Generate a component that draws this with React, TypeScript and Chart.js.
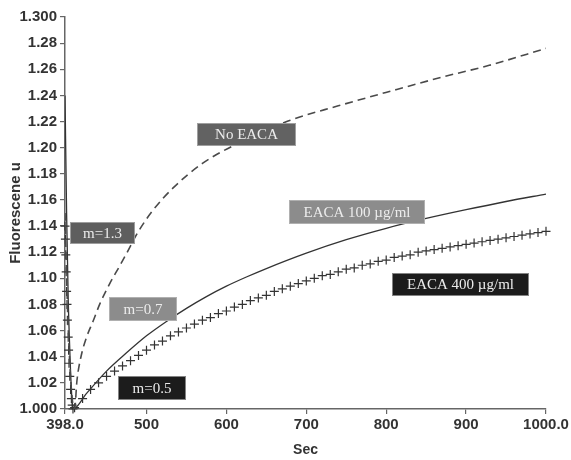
import React, { useEffect, useRef } from "react";
import { Chart, registerables } from "chart.js";

Chart.register(...registerables);

const xTickValues = [398, 500, 600, 700, 800, 900, 1000];
const xTickLabels = ["398.0", "500", "600", "700", "800", "900", "1000.0"];
const yTickValues = [1.0, 1.02, 1.04, 1.06, 1.08, 1.1, 1.12, 1.14, 1.16, 1.18, 1.2, 1.22, 1.24, 1.26, 1.28, 1.3];
const yTickLabels = ["1.000", "1.02", "1.04", "1.06", "1.08", "1.10", "1.12", "1.14", "1.16", "1.18", "1.20", "1.22", "1.24", "1.26", "1.28", "1.300"];

const noEacaSec = [398, 401, 404, 407, 410, 413, 418, 425, 433, 442, 454, 466, 475, 489, 508, 533, 570, 617, 680, 740, 804, 870, 929, 1000];
const noEacaVal = [1.15, 1.08, 1.035, 1.008, 1.0, 1.022, 1.04, 1.055, 1.067, 1.081, 1.096, 1.109, 1.119, 1.135, 1.152, 1.169, 1.188, 1.204, 1.221, 1.232, 1.243, 1.254, 1.263, 1.276];

const eaca100Sec = [398, 400, 402, 404, 406, 408, 425, 450, 475, 500, 525, 550, 575, 600, 625, 650, 700, 750, 800, 850, 900, 950, 1000];
const eaca100Val = [1.24, 1.15, 1.085, 1.045, 1.015, 1.0, 1.012, 1.029, 1.043, 1.056, 1.067, 1.077, 1.086, 1.094, 1.101, 1.1075, 1.1193, 1.1296, 1.1383, 1.1458, 1.1525, 1.1588, 1.1645];

const eaca400Sec = [
  398, 398.5, 399, 399.5, 400, 400.5, 401, 402, 402.5, 403, 404, 405, 406, 407, 408,
  410, 420, 430, 440, 450, 460, 470, 480, 490, 500, 510, 520, 530, 540, 550, 560, 570, 580, 590, 600,
  610, 620, 630, 640, 650, 660, 670, 680, 690, 700, 710, 720, 730, 740, 750, 760, 770, 780, 790, 800,
  810, 820, 830, 840, 850, 860, 870, 880, 890, 900, 910, 920, 930, 940, 950, 960, 970, 980, 990, 1000,
];
const eaca400Val = [
  1.14, 1.13, 1.118, 1.105, 1.09, 1.08, 1.068, 1.055, 1.045, 1.035, 1.025, 1.015, 1.008, 1.003, 1.0,
  1.001, 1.008, 1.015, 1.02, 1.025, 1.029, 1.033, 1.037, 1.041, 1.045, 1.049, 1.052, 1.056, 1.059, 1.062, 1.065, 1.068, 1.07, 1.073, 1.075,
  1.078, 1.08, 1.083, 1.085, 1.087, 1.09, 1.092, 1.094, 1.096, 1.098, 1.1, 1.102, 1.103, 1.105, 1.107, 1.108, 1.11, 1.111, 1.113, 1.114,
  1.116, 1.117, 1.118, 1.12, 1.121, 1.122, 1.123, 1.124, 1.125, 1.126, 1.127, 1.128, 1.129, 1.13, 1.131, 1.132, 1.133, 1.134, 1.135, 1.136,
];

const boxTexts = ["m=1.3", "No EACA", "m=0.7", "EACA 100 \u00b5g/ml", "EACA 400 \u00b5g/ml", "m=0.5"];
const boxSec = [444.9, 624.9, 495.5, 763.75, 893.4, 506.75];
const boxVal = [1.1347, 1.21, 1.0765, 1.1507, 1.0953, 1.0161];
const boxWidths = [65, 99, 68, 136, 137, 68];
const boxHeights = [22, 23, 24, 24, 23, 24];
const boxFills = ["#5e5e5e", "#626262", "#8c8c8c", "#8c8c8c", "#1c1c1c", "#1c1c1c"];

const toPoints = (xs: number[], ys: number[]) => xs.map((x, i) => ({ x, y: ys[i] }));

const boxPlugin = {
  id: "boxLabels",
  afterDatasetsDraw(chart: any) {
    const { ctx } = chart;
    const xs = chart.scales.x;
    const ys = chart.scales.y;
    ctx.save();
    boxTexts.forEach((t, i) => {
      const cx = xs.getPixelForValue(boxSec[i]);
      const cy = ys.getPixelForValue(boxVal[i]);
      const w = boxWidths[i];
      const h = boxHeights[i];
      const left = Math.round(cx - w / 2);
      const top = Math.round(cy - h / 2);
      ctx.fillStyle = boxFills[i];
      ctx.fillRect(left, top, w, h);
      ctx.strokeStyle = "rgba(200,200,200,0.6)";
      ctx.lineWidth = 1;
      ctx.strokeRect(left + 0.5, top + 0.5, w - 1, h - 1);
      ctx.fillStyle = "#ececec";
      ctx.font = '15px "Liberation Serif", "DejaVu Serif", serif';
      ctx.textAlign = "center";
      ctx.textBaseline = "middle";
      ctx.fillText(t, left + w / 2, top + h / 2 + 1);
    });
    ctx.restore();
  },
};

export default function App() {
  const ref = useRef<HTMLCanvasElement | null>(null);

  useEffect(() => {
    if (!ref.current) return;
    const tickFont = { family: '"Liberation Sans", Arial, sans-serif', size: 15, weight: "bold" as const };
    const chart = new Chart(ref.current, {
      type: "scatter",
      data: {
        datasets: [
          {
            label: "No EACA",
            data: toPoints(noEacaSec, noEacaVal),
            showLine: true,
            borderColor: "#4a4a4a",
            borderWidth: 1.6,
            borderDash: [8, 5],
            pointRadius: 0,
            cubicInterpolationMode: "monotone",
          },
          {
            label: "EACA 100 \u00b5g/ml",
            data: toPoints(eaca100Sec, eaca100Val),
            showLine: true,
            borderColor: "#333",
            borderWidth: 1.3,
            pointRadius: 0,
            cubicInterpolationMode: "monotone",
          },
          {
            label: "EACA 400 \u00b5g/ml",
            data: toPoints(eaca400Sec, eaca400Val),
            showLine: false,
            pointStyle: "cross",
            pointRadius: 4.5,
            borderColor: "#333",
            backgroundColor: "#333",
            pointBorderWidth: 1.2,
            clip: false,
          },
        ],
      } as any,
      options: {
        animation: false,
        responsive: false,
        devicePixelRatio: 1,
        layout: { padding: { left: 0, top: 17, right: 25, bottom: 0 } },
        plugins: { legend: { display: false }, tooltip: { enabled: false } },
        scales: {
          x: {
            type: "linear",
            min: 398,
            max: 1000,
            afterBuildTicks: (s: any) => {
              s.ticks = xTickValues.map((v) => ({ value: v }));
            },
            afterFit: (s: any) => {
              s.height = 51;
            },
            ticks: {
              autoSkip: false,
              maxRotation: 0,
              padding: 2,
              color: "#333",
              font: tickFont,
              callback: (_v: any, i: number) => xTickLabels[i],
            },
            grid: { drawOnChartArea: false, drawTicks: true, tickLength: 5, color: "#666", lineWidth: 1.2 },
            border: { display: true, color: "#666", width: 1.5 },
            title: {
              display: true,
              text: "Sec",
              color: "#333",
              font: { family: '"Liberation Sans", Arial, sans-serif', size: 14, weight: "bold" },
              padding: { top: 0, bottom: 1 },
            },
          },
          y: {
            type: "linear",
            min: 1.0,
            max: 1.3,
            afterBuildTicks: (s: any) => {
              s.ticks = yTickValues.map((v) => ({ value: v }));
            },
            afterFit: (s: any) => {
              s.width = 65;
            },
            ticks: {
              autoSkip: false,
              padding: 3,
              color: "#333",
              font: tickFont,
              callback: (_v: any, i: number) => yTickLabels[i],
            },
            grid: { drawOnChartArea: false, drawTicks: true, tickLength: 5, color: "#666", lineWidth: 1.2 },
            border: { display: true, color: "#666", width: 1.5 },
            title: {
              display: true,
              text: "Fluorescene u",
              color: "#333",
              font: { family: '"Liberation Sans", Arial, sans-serif', size: 15, weight: "bold" },
              padding: { top: 7, bottom: 0 },
            },
          },
        },
      } as any,
      plugins: [boxPlugin],
    });
    return () => chart.destroy();
  }, []);

  return (
    <div style={{ position: "absolute", left: 0, top: 0, width: 571, height: 460, background: "#fff" }}>
      <canvas ref={ref} width={571} height={460} style={{ display: "block" }} />
    </div>
  );
}
